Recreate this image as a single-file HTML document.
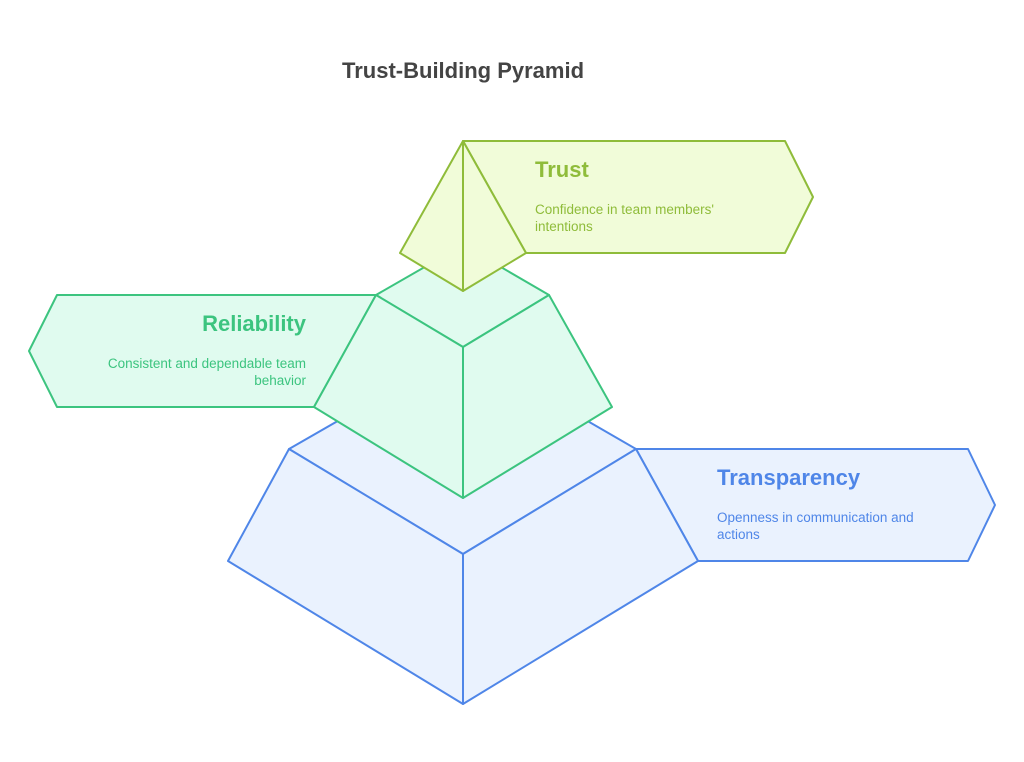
<!DOCTYPE html>
<html><head><meta charset="utf-8"><style>
html,body{margin:0;padding:0;background:#fff;}
svg{display:block;font-family:"Liberation Sans",sans-serif;}
</style></head><body>
<svg width="1024" height="762" viewBox="0 0 1024 762" xmlns="http://www.w3.org/2000/svg">
<text x="342" y="78" font-size="22" font-weight="bold" fill="#444">Trust-Building Pyramid</text>

<!-- Blue level -->
<g stroke="#4f86e8" stroke-width="2" fill="#eaf2fe" stroke-linejoin="round">
<polygon points="636,449 968,449 995,505 968,561 698,561"/>
<polygon points="289,449 463,349 636,449 463,554"/>
<polygon points="289,449 463,554 463,704 228,561"/>
<polygon points="636,449 463,554 463,704 698,561"/>
</g>
<g fill="#4f86e8">
<text x="717" y="485" font-size="22" font-weight="bold">Transparency</text>
<text x="717" y="522" font-size="13.5">Openness in communication and</text>
<text x="717" y="539" font-size="13.5">actions</text>
</g>

<!-- Green level -->
<g stroke="#3cc47f" stroke-width="2" fill="#e0fbef" stroke-linejoin="round">
<polygon points="376,295 57,295 29,351 57,407 314,407"/>
<polygon points="376,295 463,245 549,295 463,347"/>
<polygon points="376,295 463,347 463,498 314,407"/>
<polygon points="549,295 463,347 463,498 612,407"/>
</g>
<g fill="#3cc47f" text-anchor="end">
<text x="306" y="331" font-size="22" font-weight="bold">Reliability</text>
<text x="306" y="368" font-size="13.5">Consistent and dependable team</text>
<text x="306" y="385" font-size="13.5">behavior</text>
</g>

<!-- Trust level -->
<g stroke="#8fbc3a" stroke-width="2" fill="#f1fcd9" stroke-linejoin="round">
<polygon points="463,141 785,141 813,197 785,253 526,253"/>
<polygon points="463,141 400,253 463,291"/>
<polygon points="463,141 526,253 463,291"/>
</g>
<g fill="#8fbc3a">
<text x="535" y="177" font-size="22" font-weight="bold">Trust</text>
<text x="535" y="214" font-size="13.5">Confidence in team members'</text>
<text x="535" y="231" font-size="13.5">intentions</text>
</g>
</svg>
</body></html>
